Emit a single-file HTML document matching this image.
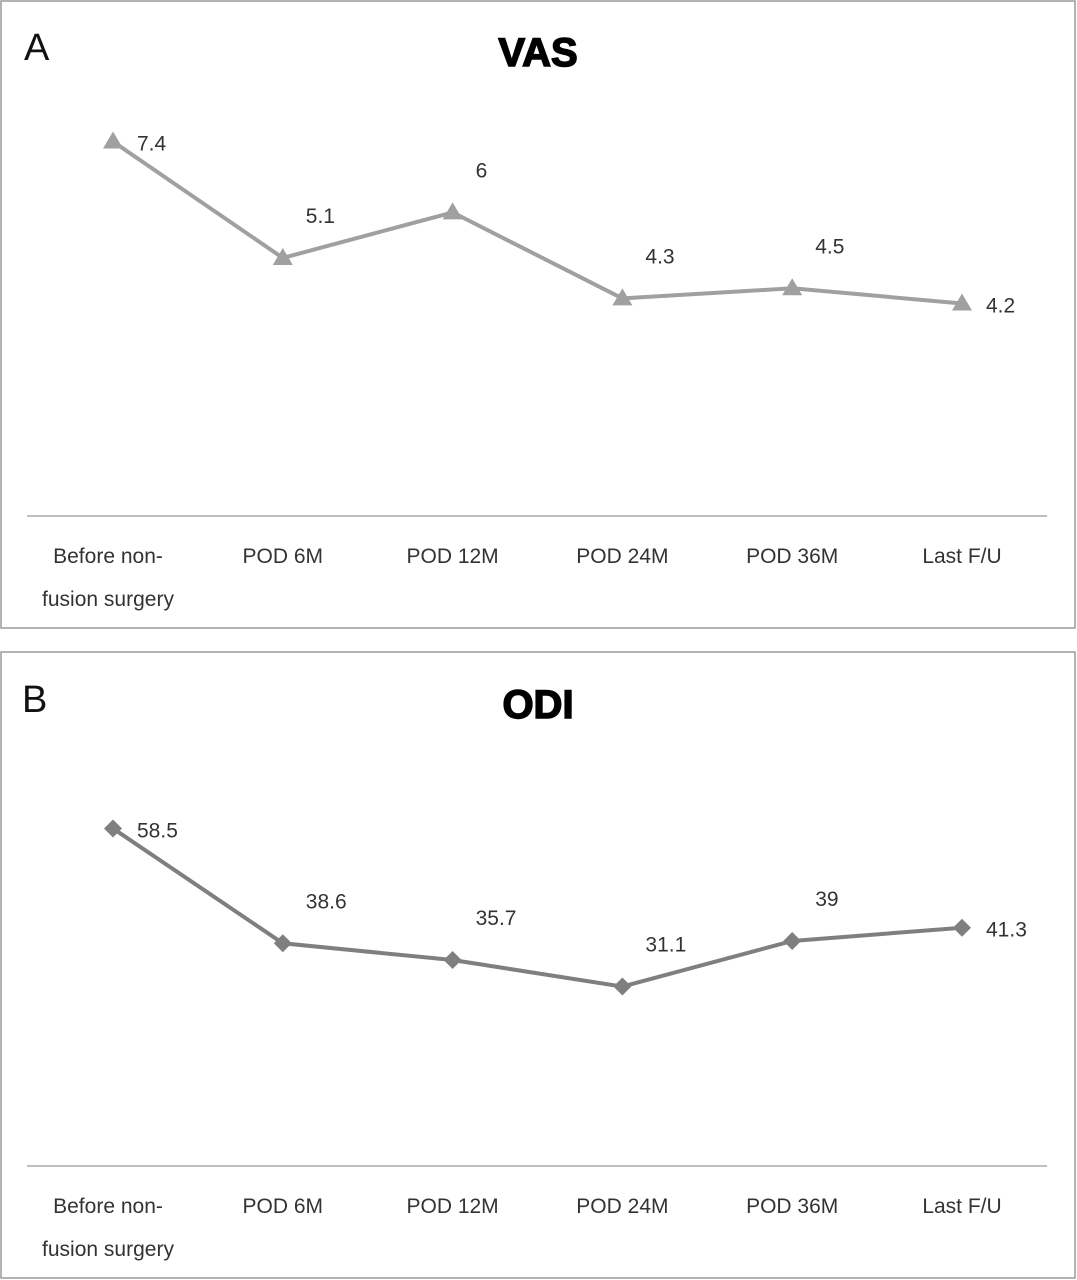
<!DOCTYPE html>
<html><head><meta charset="utf-8"><style>
body{margin:0;background:#fff;}
svg{display:block;font-family:"Liberation Sans",sans-serif;}
</style></head><body>
<svg id="s" width="1077" height="1280">
<rect x="1" y="1" width="1074" height="627" fill="#fff" stroke="#9a9a9a" stroke-width="1.5"/>
<rect x="1" y="652" width="1074" height="626" fill="#fff" stroke="#9a9a9a" stroke-width="1.5"/>
<text x="24" y="60" font-size="38" fill="#111">A</text>
<text x="22" y="712" font-size="38" fill="#111">B</text>
<text x="538" y="66" font-size="40" font-weight="bold" text-anchor="middle" fill="#000" stroke="#000" stroke-width="1.5">VAS</text>
<text x="538" y="718" font-size="40" font-weight="bold" text-anchor="middle" fill="#000" stroke="#000" stroke-width="1.5">ODI</text>
</svg>
<script>
const categories=["Before non-|fusion surgery","POD 6M","POD 12M","POD 24M","POD 36M","Last F/U"];
const vasValues=[7.4,5.1,6,4.3,4.5,4.2];
const odiValues=[58.5,38.6,35.7,31.1,39,41.3];
const vasLabelSide=["r","t","t","t","t","r"];
const odiLabelSide=["r","t","t","t","t","r"];
const NS="http://www.w3.org/2000/svg";
const svg=document.getElementById('s');
function mk(t,a){const e=document.createElementNS(NS,t);for(const k in a)e.setAttribute(k,a[k]);svg.appendChild(e);return e;}
const xScale=i=>113+i*169.8;
function drawChart(vals,sides,axisY,pxPerUnit,color,marker,prefix){
  const yScale=v=>axisY-v*pxPerUnit;
  let ax=mk('line',{x1:27,x2:1047,y1:axisY,y2:axisY,stroke:'#aaa','stroke-width':1.5});
  
  
  categories.forEach((c,i)=>{
    const parts=c.split('|');
    parts.forEach((p,j)=>{
      const t=mk('text',{x:xScale(i)-(parts.length>1?5:0),y:axisY+47+j*43,'font-size':21,'text-anchor':'middle',fill:'#333'});
      t.textContent=p;
      
      
    });
  });
  const pts=vals.map((v,i)=>xScale(i)+','+yScale(v)).join(' ');
  const l=mk('polyline',{points:pts,fill:'none',stroke:color,'stroke-width':4});
  
  
  vals.forEach((v,i)=>{
    const x=xScale(i),y=yScale(v);
    let m;
    if(marker==='tri') m=mk('polygon',{points:`${x},${y-10} ${x-10},${y+7} ${x+10},${y+7}`,fill:color});
    else m=mk('polygon',{points:`${x},${y-9} ${x+9},${y} ${x},${y+9} ${x-9},${y}`,fill:color});
    
    
    const r=sides[i]==='r';
    const t=mk('text',{x:r?x+24:x+23,y:r?y+9:y-35,'font-size':21,fill:'#333'});
    t.textContent=String(v);
    
    
  });
}
drawChart(vasValues,vasLabelSide,516,50.6,'#a0a0a0','tri','vas');
drawChart(odiValues,odiLabelSide,1166,5.77,'#7f7f7f','dia','odi');
</script>
</body></html>
